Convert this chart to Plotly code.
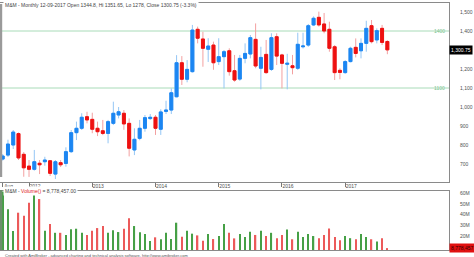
import pandas as pd
import plotly.graph_objects as go

# ---------------- data ----------------
months = [d.strftime("%Y-%m") for d in pd.date_range("2011-08-01", "2017-09-01", freq="MS")]

open_ = [726, 747, 800, 860, 751, 689, 672, 704, 712, 717, 647, 707, 703, 765, 865, 888, 949, 935, 888, 875,
         861, 914, 958, 967, 914, 774, 835, 888, 939, 946, 883, 977, 984, 1054, 1233, 1146, 1186, 1409, 1358, 1304,
         1326, 1239, 1265, 1296, 1191, 1147, 1256, 1279, 1356, 1204, 1277, 1198, 1370, 1274, 1225, 1217, 1204, 1317, 1326, 1432,
         1472, 1437, 1409, 1317, 1193, 1181, 1239, 1314, 1296, 1335, 1428, 1353, 1414, 1344.8]
high = [752, 828, 879, 866, 763, 721, 774, 721, 738, 721, 721, 721, 788, 879, 923, 967, 975, 970, 923, 932,
        932, 1028, 1000, 984, 940, 888, 932, 958, 963, 958, 988, 1033, 1098, 1273, 1268, 1247, 1432, 1423, 1396, 1362,
        1344, 1362, 1300, 1309, 1274, 1274, 1335, 1379, 1440, 1317, 1353, 1388, 1388, 1280, 1280, 1274, 1391, 1391, 1437, 1477,
        1502, 1495, 1449, 1326, 1204, 1247, 1317, 1361, 1361, 1454, 1458, 1414, 1432, 1351.65]
low = [718, 737, 779, 721, 633, 632, 665, 647, 691, 637, 621, 684, 686, 758, 826, 879, 914, 862, 847, 852,
       809, 905, 940, 880, 740, 747, 825, 870, 932, 853, 853, 963, 963, 1051, 1116, 1130, 1181, 1335, 1212, 1237,
       1196, 1221, 1098, 1165, 1133, 1138, 1230, 1256, 1204, 1093, 1175, 1190, 1221, 1098, 1093, 1172, 1195, 1308, 1317, 1426,
       1423, 1388, 1291, 1142, 1146, 1175, 1235, 1261, 1256, 1291, 1335, 1335, 1326, 1278]
close = [742, 805, 868, 732, 680, 672, 712, 696, 721, 651, 712, 696, 765, 865, 888, 946, 932, 883, 870, 861,
         923, 967, 975, 911, 783, 830, 888, 944, 946, 888, 974, 984, 1075, 1233, 1146, 1198, 1405, 1362, 1309, 1321,
         1233, 1265, 1291, 1186, 1142, 1256, 1282, 1365, 1216, 1261, 1181, 1365, 1268, 1230, 1230, 1207, 1330, 1321, 1428, 1467,
         1432, 1400, 1309, 1181, 1182, 1239, 1309, 1282, 1335, 1414, 1344, 1402, 1340, 1300.75]
volume_m = [61.5, 44.8, 24.7, 41.7, 38.9, 51.0, 63.0, 54.4, 25.0, 31.2, 23.0, 23.0, 21.0, 26.2, 26.8, 23.0, 21.0, 25.0, 27.4, 29.3,
            23.0, 25.3, 23.7, 26.8, 36.5, 29.3, 23.5, 21.9, 15.3, 18.8, 16.9, 23.0, 17.2, 32.4, 19.4, 25.0, 22.2, 20.6, 15.6, 21.9,
            17.2, 20.0, 31.2, 23.0, 17.8, 22.0, 19.0, 24.0, 21.0, 25.0, 20.0, 23.0, 18.0, 21.0, 26.0, 17.0, 24.0, 19.0, 22.0, 20.0,
            18.0, 21.0, 27.0, 19.0, 16.0, 20.0, 18.0, 17.0, 22.0, 19.0, 17.0, 15.0, 18.0, 8.778457]

x_tick_months = ["2011-08", "2012-01", "2013-01", "2014-01", "2015-01", "2016-01", "2017-01"]
x_tick_labels = ["Aug", "2012", "2013", "2014", "2015", "2016", "2017"]
price_ticks = [700, 800, 900, 1000, 1100, 1200, 1400, 1500]
vol_ticks = [20e6, 30e6, 40e6, 50e6, 60e6]
vol_tick_labels = ["20M", "30M", "40M", "50M", "60M"]
levels = [1400, 1100]

title_text = "M&M - Monthly 12-09-2017 Open 1344.8, Hi 1351.65, Lo 1278, Close 1300.75 (-3.3%)"
footer_text = "Created with AmiBroker - advanced charting and technical analysis software. http://www.amibroker.com"

# ---------------- styling ----------------
FONT = "Liberation Sans"
BLUE, BLUE_W = "#1c86f2", "#94c6f5"
RED, RED_W = "#ee1111", "#f3a0a0"
VGREEN, VRED = "#46a046", "#ec5a5a"
FRAME = "#8a8a8a"
TXT = "#505050"

x = list(range(len(months)))
volume = [v * 1e6 for v in volume_m]
body_hi = [max(o, c) for o, c in zip(open_, close)]
body_lo = [min(o, c) for o, c in zip(open_, close)]
vcolors = [VGREEN if c >= o else VRED for o, c in zip(open_, close)]

fig = go.Figure()
# wicks
fig.add_trace(go.Candlestick(
    x=x, open=open_, high=high, low=low, close=close,
    increasing=dict(line=dict(color=BLUE_W, width=1), fillcolor=BLUE_W),
    decreasing=dict(line=dict(color=RED_W, width=1), fillcolor=RED_W),
    whiskerwidth=0, xaxis="x", yaxis="y", showlegend=False, hoverinfo="skip"))
# bodies
fig.add_trace(go.Candlestick(
    x=x, open=open_, high=body_hi, low=body_lo, close=close,
    increasing=dict(line=dict(color=BLUE, width=1), fillcolor=BLUE),
    decreasing=dict(line=dict(color=RED, width=1), fillcolor=RED),
    whiskerwidth=0, xaxis="x", yaxis="y", showlegend=False))
# volume
fig.add_trace(go.Bar(x=x, y=volume, marker=dict(color=vcolors, line=dict(width=0)),
                     width=0.25, xaxis="x2", yaxis="y2", showlegend=False))

tickvals_x = [months.index(m) for m in x_tick_months]
price_dom = [0.2773, 1.0]
vol_dom = [0.0, 0.2389]

fig.update_layout(
    width=474, height=257,
    margin=dict(l=0, r=25, t=3, b=7),
    paper_bgcolor="white", plot_bgcolor="white",
    font=dict(family=FONT, size=5, color=TXT),
    showlegend=False, boxgap=0.2,
    xaxis=dict(domain=[0, 1], anchor="y", range=[-0.51, 84.7], showgrid=False, zeroline=False,
               rangeslider=dict(visible=False),
               tickmode="array", tickvals=tickvals_x, ticktext=x_tick_labels,
               ticks="outside", ticklen=4, tickcolor="#777", tickwidth=1,
               ticklabelshift=6, ticklabelstandoff=-5,
               tickfont=dict(size=5, color=TXT),
               showline=True, linecolor=FRAME, linewidth=1, mirror=True),
    xaxis2=dict(domain=[0, 1], anchor="y2", matches="x", showgrid=False, zeroline=False,
                showticklabels=False, ticks="",
                showline=True, linecolor=FRAME, linewidth=1, mirror=True),
    yaxis=dict(domain=price_dom, anchor="x", side="right", range=[607.9, 1547.4],
               showgrid=False, zeroline=False, tickmode="array", tickvals=price_ticks,
               tickformat=",", ticks="outside", ticklen=9, tickcolor="rgba(0,0,0,0)",
               tickfont=dict(size=5, color=TXT),
               showline=True, linecolor=FRAME, linewidth=1),
    yaxis2=dict(domain=vol_dom, anchor="x2", side="right", range=[7.0e6, 61.9e6],
                showgrid=False, zeroline=False, tickmode="array", tickvals=vol_ticks,
                ticktext=vol_tick_labels, ticks="outside", ticklen=9, tickcolor="rgba(0,0,0,0)",
                tickfont=dict(size=5, color=TXT),
                showline=True, linecolor=FRAME, linewidth=1),
)

shapes = []
for lv in levels:
    shapes.append(dict(type="line", xref="paper", x0=0, x1=1, yref="y", y0=lv, y1=lv,
                       line=dict(color="#a8dbb8", width=1), layer="below"))
shapes.append(dict(type="rect", xref="paper", x0=0, x1=2.2 / 449, yref="paper", y0=0.2955, y1=0.996,
                   fillcolor="#9a9a9a", line=dict(width=0)))
shapes.append(dict(type="rect", xref="paper", x0=0, x1=2.2 / 449, yref="paper", y0=0.0, y1=0.243,
                   fillcolor="#6d8f6d", line=dict(width=0)))
fig.update_layout(shapes=shapes)

ann = []
ann.append(dict(text=title_text, xref="paper", yref="paper", x=0, y=1, xanchor="left", yanchor="middle",
                xshift=3, yshift=-1.5, showarrow=False, bgcolor="white", borderpad=1,
                font=dict(size=5, color="#444")))
ann.append(dict(text="M&M - <span style='color:#e02020'>Volume()</span> = 8,778,457.00",
                xref="paper", yref="paper", x=0, y=vol_dom[1], xanchor="left", yanchor="middle",
                xshift=3, showarrow=False, bgcolor="white", borderpad=1, font=dict(size=5, color="#444")))
ann.append(dict(text=footer_text, xref="paper", yref="paper", x=0, y=0, xanchor="left", yanchor="top",
                xshift=3, yshift=-0.5, showarrow=False, font=dict(size=4, color="#555")))
for lv in levels:
    ann.append(dict(text=str(lv), xref="paper", yref="y", x=1, y=lv, xanchor="right", yanchor="middle",
                    xshift=-2, showarrow=False, font=dict(size=5, color="#7cc490")))
ann.append(dict(text=f"{close[-1]:,.2f}", xref="paper", yref="y", x=1, y=close[-1], xanchor="left",
                yanchor="middle", showarrow=False, bgcolor="black", borderpad=1,
                font=dict(size=5, color="white")))
ann.append(dict(text=f"{volume[-1]:,.0f}", xref="paper", yref="y2", x=1, y=volume[-1], xanchor="left",
                yanchor="middle", showarrow=False, bgcolor="#e01010", borderpad=1,
                font=dict(size=5, color="#300")))
fig.update_layout(annotations=ann)

fig.write_html("out.html")
